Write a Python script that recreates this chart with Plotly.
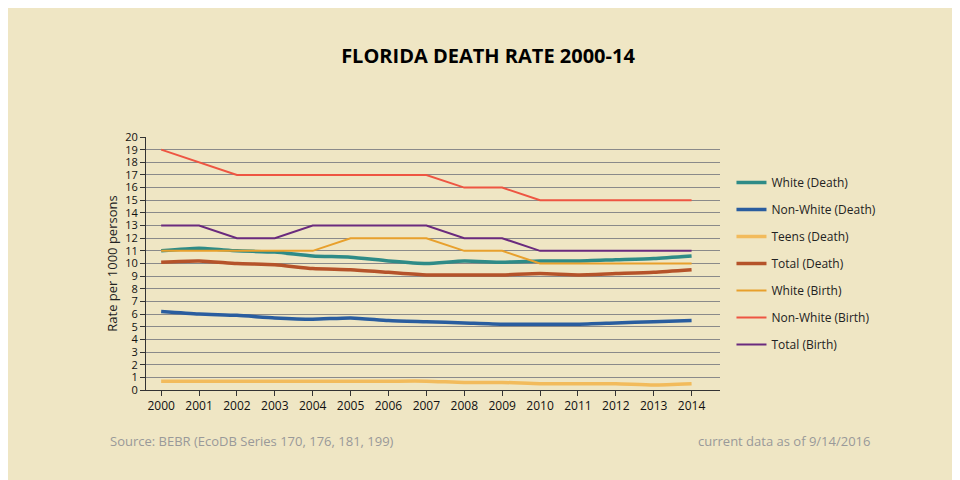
import plotly.graph_objects as go

years = list(range(2000, 2015))
white_death = [11, 11.2, 11, 10.9, 10.6, 10.5, 10.2, 10, 10.2, 10.1, 10.2, 10.2, 10.3, 10.4, 10.6]
nonwhite_death = [6.2, 6, 5.9, 5.7, 5.6, 5.7, 5.5, 5.4, 5.3, 5.2, 5.2, 5.2, 5.3, 5.4, 5.5]
teens_death = [0.7, 0.7, 0.7, 0.7, 0.7, 0.7, 0.7, 0.7, 0.6, 0.6, 0.5, 0.5, 0.5, 0.4, 0.5]
total_death = [10.1, 10.2, 10, 9.9, 9.6, 9.5, 9.3, 9.1, 9.1, 9.1, 9.2, 9.1, 9.2, 9.3, 9.5]
white_birth = [11, 11, 11, 11, 11, 12, 12, 12, 11, 11, 10, 10, 10, 10, 10]
nonwhite_birth = [19, 18, 17, 17, 17, 17, 17, 17, 16, 16, 15, 15, 15, 15, 15]
total_birth = [13, 13, 12, 12, 13, 13, 13, 13, 12, 12, 11, 11, 11, 11, 11]

series = [
    ("White (Death)", white_death, "#2E8B87", 3.5, "spline"),
    ("Non-White (Death)", nonwhite_death, "#2A5D9F", 3.5, "spline"),
    ("Teens (Death)", teens_death, "#F2BB5C", 3.5, "spline"),
    ("Total (Death)", total_death, "#B5532A", 3.5, "spline"),
    ("White (Birth)", white_birth, "#E8A02C", 2, "linear"),
    ("Non-White (Birth)", nonwhite_birth, "#EE5542", 2, "linear"),
    ("Total (Birth)", total_birth, "#6A2A7E", 2, "linear"),
]

fig = go.Figure()
for name, vals, col, w, shape in series:
    fig.add_trace(go.Scatter(x=years, y=vals, name=name, mode="lines", legendgroup=name,
                             line=dict(color=col, width=w, shape=shape, smoothing=0.6)))

bg = "#EFE6C4"
fig.update_layout(
    width=960, height=480, paper_bgcolor=bg, plot_bgcolor=bg,
    margin=dict(l=138, r=248, t=129, b=98),
    font=dict(family="Open Sans, DejaVu Sans", color="#222"),
    title=dict(text="<b>FLORIDA DEATH RATE 2000-14</b>", x=0.5, xanchor="center",
               y=0.915, font=dict(size=20, color="#000")),
    xaxis=dict(range=[1999.6, 2014.75], tickvals=years, ticks="outside", ticklen=5,
               tickcolor="#333", showline=True, linecolor="#333", showgrid=False,
               tickfont=dict(size=12, color="#111")),
    yaxis=dict(range=[0, 20], dtick=1, showgrid=True, gridcolor="#8A8A8A", gridwidth=1,
               showline=True, linecolor="#333", ticks="outside", ticklen=5, tickcolor="#333",
               tickfont=dict(size=11, color="#111"), zeroline=False,
               title=dict(text="Rate per 1000 persons", font=dict(size=13), standoff=4)),
    legend=dict(x=1.02, y=0.5, yanchor="middle", bgcolor="rgba(0,0,0,0)",
                font=dict(size=12), tracegroupgap=8, itemwidth=30),
    showlegend=True,
)
fig.add_annotation(text="Source: BEBR (EcoDB Series 170, 176, 181, 199)", xref="paper", yref="paper",
                   x=-0.066, y=-0.2, xanchor="left", yanchor="middle", showarrow=False,
                   font=dict(size=13, color="#999"))
fig.add_annotation(text="current data as of 9/14/2016", xref="paper", yref="paper",
                   x=1.265, y=-0.2, xanchor="right", yanchor="middle", showarrow=False,
                   font=dict(size=13, color="#999"))
fig.write_html("out.html")
